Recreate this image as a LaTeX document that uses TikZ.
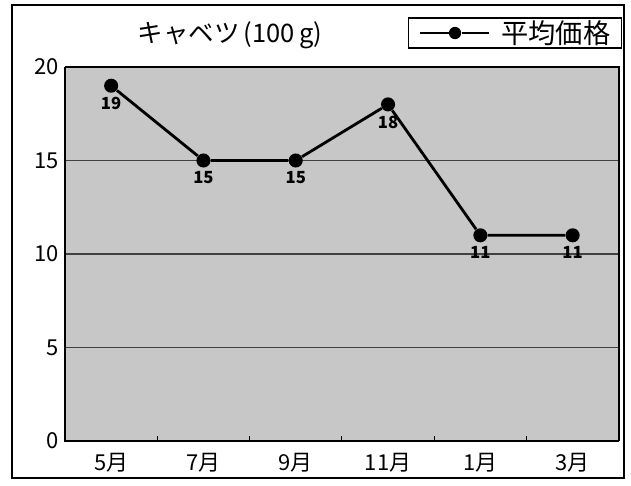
\documentclass[tikz,border=0pt]{standalone}
\usepackage{fontspec}
\setmainfont{Noto Sans CJK JP}
\usetikzlibrary{positioning}
\begin{document}
\begin{tikzpicture}[x=0.02cm,y=-0.02cm]
    \tikzstyle{courbe}=[line width=1.6pt,black]
    \tikzstyle{grille}=[line width=0.6pt,black!75]
\tikzset{point/.style={circle,fill=black,inner sep=0pt,minimum size=8pt},
valeur/.style={font=\fontsize{9.5}{10}\selectfont\bfseries,inner sep=1pt},
graduation/.style={font=\fontsize{12.5}{12}\selectfont,anchor=east,inner sep=1pt},
mois/.style={font=\fontsize{12.5}{12}\selectfont,inner sep=1pt}}
\useasboundingbox (0,0) rectangle (631,485);
\draw[line width=1.2pt] (12,5) rectangle (624,478);
% zone du graphique
\fill[black!22] (65,67) rectangle (619,441);
\foreach \v in {5,10,15}
  \draw[grille] (65,{441-\v*18.7}) -- (619,{441-\v*18.7});
\draw[line width=0.6pt] (65,67) -- (619,67) -- (619,441);
\draw[line width=1pt] (65,67) -- (65,441) -- (619,441);
\foreach \i in {1,...,5}
  \draw[line width=0.6pt] ({65+\i*92.3},441) -- ({65+\i*92.3},436);
\foreach \v in {0,5,10,15,20}
  \node[graduation] (g\v) at (61,{441-\v*18.7}) {\v};
% mois et valeurs
\foreach \i/\m/\v in {1/5/19,2/7/15,3/9/15,4/11/18,5/1/11,6/3/11}{
  \node[point] (p\i) at ({65+(\i-0.5)*92.3},{441-\v*18.7}) {};
  \node[valeur,below=1pt of p\i] (v\i) {\v};
  \node[mois] (m\i) at ({65+(\i-0.5)*92.3},463) {\m 月};
}
\draw[courbe] (p1) -- (p2) -- (p3) -- (p4) -- (p5) -- (p6);
% titre et legende
\node[font=\fontsize{14.5}{15}\selectfont] (titre) at (230,35) {キャベツ\,(100\,g)};
\node[draw,line width=0.8pt,minimum width=213*0.02cm,minimum height=30*0.02cm,inner sep=0pt] (legende) at (515,33) {};
\node[font=\fontsize{15.5}{16}\selectfont,anchor=west,inner sep=0pt] (nom) at (501,33) {平均価格};
\node[point,minimum size=7pt] (pl) at (455,33) {};
\coordinate (l1) at (420,33);
\coordinate (l2) at (489,33);
\draw[courbe] (l1) -- (pl) -- (l2);
\end{tikzpicture}
\end{document}
